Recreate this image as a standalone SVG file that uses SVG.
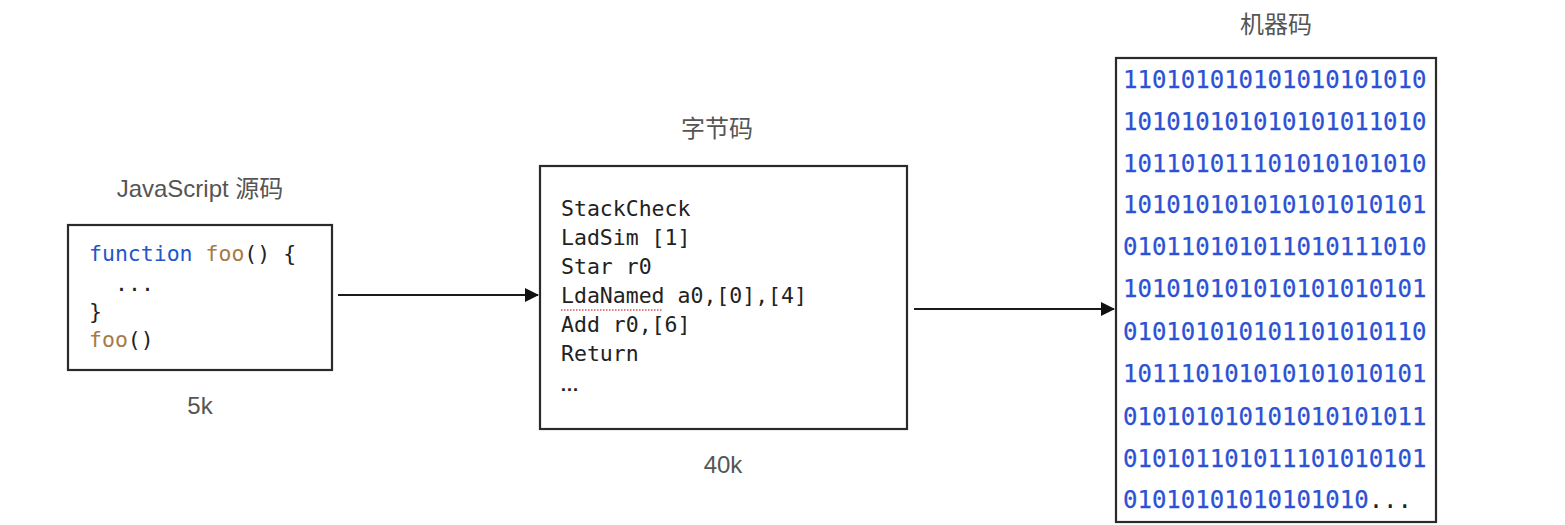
<svg xmlns="http://www.w3.org/2000/svg" width="1565" height="525" viewBox="0 0 1565 525">
<defs>
<marker id="arr" markerWidth="14" markerHeight="14" refX="13" refY="7" orient="auto" markerUnits="userSpaceOnUse">
<path d="M0,0 L14,7 L0,14 Z" fill="#111"/>
</marker>
<style>
.box{fill:#fff;stroke:#2a2a2a;stroke-width:2.2}
.lbl{font-family:"Liberation Sans","Noto Sans CJK SC",sans-serif;font-size:24px;fill:#555;text-anchor:middle}
.code{font-family:"DejaVu Sans Mono","Liberation Mono",monospace;font-size:21.5px;fill:#222}
.bin{font-family:"DejaVu Sans Mono","Liberation Mono",monospace;font-size:24px;fill:#2b52d4;stroke:#2b52d4;stroke-width:0.25}
.kw{fill:#2456c8}
.fn{fill:#a67b45}
.conn{stroke:#1a1a1a;stroke-width:2.2;fill:none}
</style>
</defs>
<rect width="1565" height="525" fill="#fff"/>
<g id="source">
<text class="lbl" x="200" y="197">JavaScript 源码</text>
<rect class="box" x="68" y="225" width="264" height="145"/>
<text class="code" x="89" y="261"><tspan class="kw">function</tspan> <tspan class="fn">foo</tspan>() {</text>
<text class="code" x="115" y="291">...</text>
<text class="code" x="89" y="319">}</text>
<text class="code" x="89" y="347"><tspan class="fn">foo</tspan>()</text>
<text class="lbl" x="200" y="414">5k</text>
</g>
<g id="bytecode">
<text class="lbl" x="717" y="137">字节码</text>
<rect class="box" x="540" y="166" width="367" height="263"/>
<text class="code" x="561" y="216">StackCheck</text>
<text class="code" x="561" y="245">LadSim [1]</text>
<text class="code" x="561" y="274">Star r0</text>
<text class="code" x="561" y="303">LdaNamed a0,[0],[4]</text>
<path d="M561,310 H663" stroke="#d9534f" stroke-width="1.4" stroke-dasharray="1.5,1.5" fill="none"/>
<text x="560" y="391" font-family="Liberation Sans, sans-serif" font-size="19" font-weight="bold" fill="#222">…</text>
<text class="code" x="561" y="332">Add r0,[6]</text>
<text class="code" x="561" y="361">Return</text>
<text class="lbl" x="723" y="473">40k</text>
</g>
<g id="machine">
<text class="lbl" x="1276" y="33">机器码</text>
<rect class="box" x="1116" y="58" width="320" height="464"/>
<text class="bin" x="1123" y="88">110101010101010101010</text>
<text class="bin" x="1123" y="130">101010101010101011010</text>
<text class="bin" x="1123" y="172">101101011101010101010</text>
<text class="bin" x="1123" y="213">101010101010101010101</text>
<text class="bin" x="1123" y="255">010110101011010111010</text>
<text class="bin" x="1123" y="297">101010101010101010101</text>
<text class="bin" x="1123" y="340">010101010101101010110</text>
<text class="bin" x="1123" y="382">101110101010101010101</text>
<text class="bin" x="1123" y="425">010101010101010101011</text>
<text class="bin" x="1123" y="467">010101101011101010101</text>
<text class="bin" x="1123" y="508">01010101010101010<tspan fill="#222" stroke="none">...</tspan></text>
</g>
<g id="connectors">
<path class="conn" d="M338,295 H538" marker-end="url(#arr)"/>
<path class="conn" d="M914,309 H1114" marker-end="url(#arr)"/>
</g>
</svg>
